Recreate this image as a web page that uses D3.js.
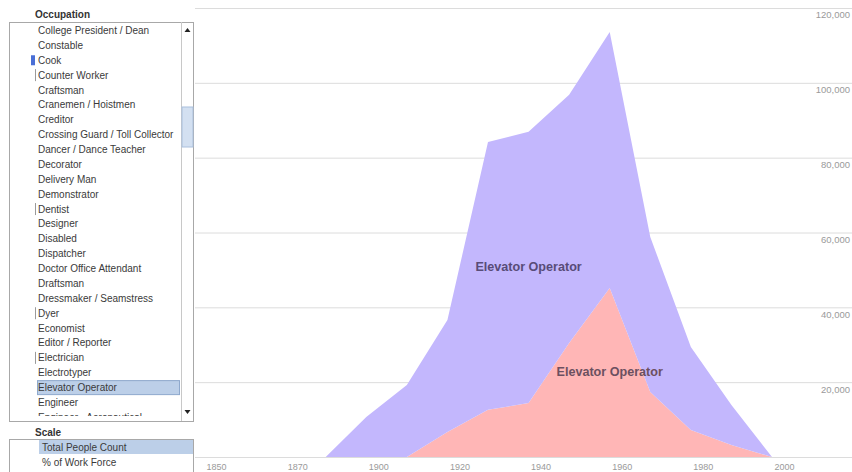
<!DOCTYPE html>
<html>
<head>
<meta charset="utf-8">
<script src="https://cdn.jsdelivr.net/npm/d3@7"></script>
<style>
  body { margin: 0; background: #fff; }
  svg { display: block; font-family: "Liberation Sans", Arial, sans-serif; }
</style>
</head>
<body>
<script>

// Census years (1890 missing) and counts per layer
var years = [1850, 1860, 1870, 1880, 1900, 1910, 1920, 1930, 1940, 1950, 1960, 1970, 1980, 1990, 2000];
var female = [0, 0, 0, 0, 0, 0, 6700, 12600, 14400, 30500, 45200, 17400, 7200, 3200, 0];
var male = [0, 0, 0, 0, 10700, 19250, 29900, 71600, 72500, 66300, 68400, 41400, 22200, 10700, 0];
var layerNames = ["Elevator Operator", "Elevator Operator"];

var xTickYears = [1850, 1870, 1900, 1920, 1940, 1960, 1980, 2000];
var yTicks = [0, 20000, 40000, 60000, 80000, 100000, 120000];

var occupations = ["College President / Dean", "Constable", "Cook", "Counter Worker", "Craftsman",
  "Cranemen / Hoistmen", "Creditor", "Crossing Guard / Toll Collector", "Dancer / Dance Teacher",
  "Decorator", "Delivery Man", "Demonstrator", "Dentist", "Designer", "Disabled", "Dispatcher",
  "Doctor Office Attendant", "Draftsman", "Dressmaker / Seamstress", "Dyer", "Economist",
  "Editor / Reporter", "Electrician", "Electrotyper", "Elevator Operator", "Engineer",
  "Engineer - Aeronautical"];
var markedThin = ["Counter Worker", "Dentist", "Dyer", "Electrician"];
var markedBlue = ["Cook"];
var selectedOccupation = "Elevator Operator";

var scaleOptions = ["Total People Count", "% of Work Force"];
var selectedScale = "Total People Count";

var width = 852,
  height = 472;

var svg = d3.select("body")
  .append("svg")
  .attr("width", width)
  .attr("height", height);

// ---- chart ----
var x = d3.scalePoint()
  .domain(years)
  .range([204, 772]);

var y = d3.scaleLinear()
  .domain([0, 120000])
  .range([457, 8]);

// y axis drawn as full-width gridlines with labels under each line
var yAxis = svg.append("g")
  .attr("transform", "translate(852,0)")
  .call(d3.axisLeft(y)
    .tickValues(yTicks)
    .tickSize(657)
    .tickFormat(function(d) { return d === 0 ? "" : d3.format(",")(d); }));
yAxis.select(".domain").remove();
yAxis.selectAll("line").attr("stroke", "#dcdcdc");
yAxis.selectAll("text")
  .attr("x", -2)
  .attr("dy", "1.05em")
  .attr("fill", "#9a9a9a")
  .style("font-size", "9.5px")
  .style("font-family", "'Liberation Sans', Arial, sans-serif");

var table = years.map(function(yr, i) {
  return { year: yr, female: female[i], male: male[i] };
});

var stack = d3.stack().keys(["female", "male"]);
var layers = stack(table);

var colors = ["#ffb6b6", "#c3b7fd"];
var labelColors = ["#6c5060", "#584c78"];

var area = d3.area()
  .x(function(d) { return x(d.data.year); })
  .y0(function(d) { return y(d[0]); })
  .y1(function(d) { return y(d[1]); });

svg.selectAll(".layer")
  .data(layers)
  .enter()
  .append("path")
  .attr("class", "layer")
  .attr("d", area)
  .style("fill", function(d, i) { return colors[i]; });

// label each layer where it is thickest
layers.forEach(function(layer, i) {
  var best = d3.maxIndex(layer, function(d) { return d[1] - d[0]; });
  var p = layer[best];
  svg.append("text")
    .attr("x", x(p.data.year))
    .attr("y", y((p[0] + p[1]) / 2))
    .attr("text-anchor", "middle")
    .attr("dominant-baseline", "central")
    .attr("fill", labelColors[i])
    .style("font-size", "12.6px")
    .style("font-weight", "bold")
    .text(layerNames[i]);
});

var xAxis = svg.append("g")
  .attr("transform", "translate(0,457)")
  .call(d3.axisBottom(x).tickValues(xTickYears).tickSize(0));
xAxis.select(".domain").remove();
xAxis.selectAll("text")
  .attr("x", 2)
  .attr("y", 13)
  .attr("dy", 0)
  .attr("text-anchor", "start")
  .attr("fill", "#9a9a9a")
  .style("font-size", "9px")
  .style("font-family", "'Liberation Sans', Arial, sans-serif");

// ---- left panel ----
var panel = svg.append("g");

panel.append("rect")
  .attr("x", 0).attr("y", 0)
  .attr("width", 194).attr("height", height)
  .attr("fill", "#fff");

panel.append("text")
  .attr("x", 35).attr("y", 18)
  .attr("fill", "#333")
  .style("font-size", "10px")
  .style("font-weight", "bold")
  .text("Occupation");

var listTop = 22, listBottom = 421, rowStep = 14.88, firstRow = 30.5;

svg.append("clipPath")
  .attr("id", "listClip")
  .append("rect")
  .attr("x", 9).attr("y", listTop).attr("width", 172).attr("height", 416 - listTop);

var list = panel.append("g").attr("clip-path", "url(#listClip)");

list.selectAll(".sel")
  .data(occupations.filter(function(d) { return d === selectedOccupation; }))
  .enter()
  .append("rect")
  .attr("x", 37.5)
  .attr("y", function(d) { return firstRow + occupations.indexOf(d) * rowStep - 7; })
  .attr("width", 142)
  .attr("height", 14)
  .attr("fill", "#bccfe8")
  .attr("stroke", "#8ea8cc");

list.selectAll(".thin")
  .data(markedThin)
  .enter()
  .append("line")
  .attr("x1", 35.5).attr("x2", 35.5)
  .attr("y1", function(d) { return firstRow + occupations.indexOf(d) * rowStep - 6; })
  .attr("y2", function(d) { return firstRow + occupations.indexOf(d) * rowStep + 6; })
  .attr("stroke", "#9a9a9a");

list.selectAll(".blue")
  .data(markedBlue)
  .enter()
  .append("rect")
  .attr("x", 31)
  .attr("y", function(d) { return firstRow + occupations.indexOf(d) * rowStep - 5; })
  .attr("width", 4)
  .attr("height", 10)
  .attr("fill", "#4a6fd6");

list.selectAll(".item")
  .data(occupations)
  .enter()
  .append("text")
  .attr("x", 38)
  .attr("y", function(d, i) { return firstRow + i * rowStep; })
  .attr("dominant-baseline", "central")
  .attr("fill", "#3a3a3a")
  .style("font-size", "10px")
  .text(function(d) { return d; });

panel.append("rect")
  .attr("x", 9.5).attr("y", listTop + 0.5)
  .attr("width", 184).attr("height", listBottom - listTop)
  .attr("fill", "none")
  .attr("stroke", "#a8a8a8");

// scrollbar
panel.append("line")
  .attr("x1", 181.5).attr("x2", 181.5)
  .attr("y1", listTop).attr("y2", listBottom)
  .attr("stroke", "#c8c8c8");
panel.append("rect")
  .attr("x", 182).attr("y", 107)
  .attr("width", 11).attr("height", 40)
  .attr("fill", "#d3e0f1")
  .attr("stroke", "#aac0dd");
panel.append("path")
  .attr("d", "M184.5,32 L190.5,32 L187.5,28 Z")
  .attr("fill", "#222");
panel.append("path")
  .attr("d", "M184.5,410 L190.5,410 L187.5,414 Z")
  .attr("fill", "#222");

// scale selector
panel.append("text")
  .attr("x", 35).attr("y", 436)
  .attr("fill", "#333")
  .style("font-size", "10px")
  .style("font-weight", "bold")
  .text("Scale");

panel.append("rect")
  .attr("x", 9.5).attr("y", 439.5)
  .attr("width", 184).attr("height", 40)
  .attr("fill", "none")
  .attr("stroke", "#a8a8a8");

panel.selectAll(".scaleSel")
  .data(scaleOptions.filter(function(d) { return d === selectedScale; }))
  .enter()
  .append("rect")
  .attr("x", 39)
  .attr("y", function(d) { return 440 + scaleOptions.indexOf(d) * 15.5; })
  .attr("width", 154)
  .attr("height", 14)
  .attr("fill", "#bccfe8");

panel.selectAll(".scaleItem")
  .data(scaleOptions)
  .enter()
  .append("text")
  .attr("x", 42)
  .attr("y", function(d, i) { return 447 + i * 15.5; })
  .attr("dominant-baseline", "central")
  .attr("fill", "#3a3a3a")
  .style("font-size", "10px")
  .text(function(d) { return d; });

</script>
</body>
</html>
